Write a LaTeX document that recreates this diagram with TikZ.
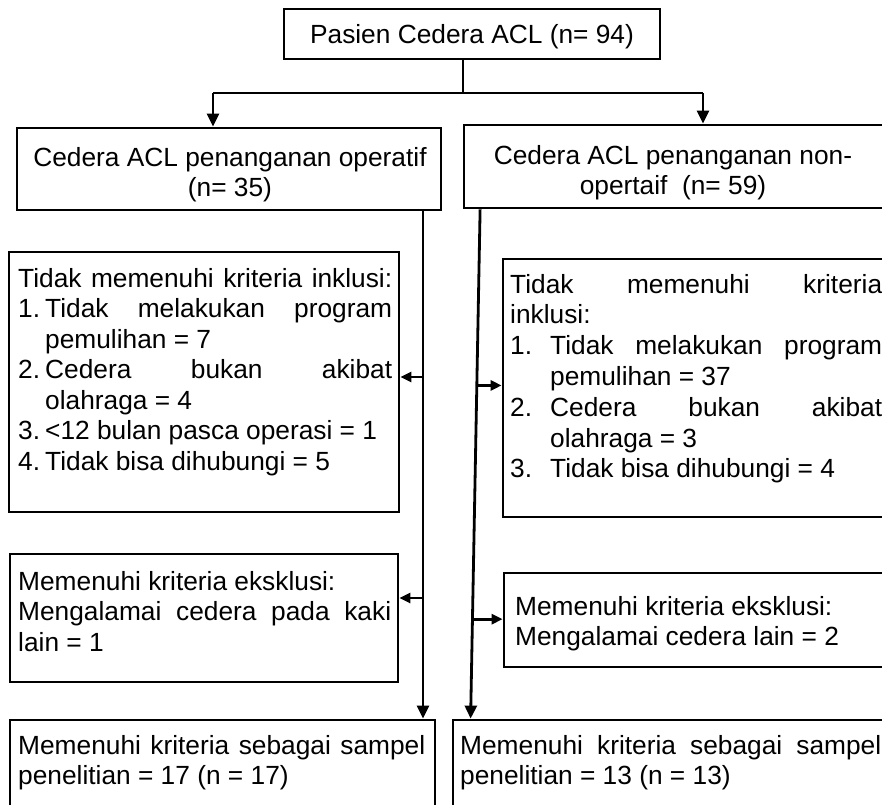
\documentclass[tikz,border=0pt]{standalone}
\usepackage{fontspec}
\setmainfont{Liberation Sans}
\usetikzlibrary{arrows.meta,calc}
\newcommand{\jl}[2]{\makebox[#1pt][s]{#2}}
\newcommand{\itm}[3]{\makebox[#1pt][l]{#2}#3}
\begin{document}
\begin{tikzpicture}[x=1pt,y=-1pt,
  box/.style={draw, line width=2.8pt, inner sep=0pt, rectangle},
  txt/.style={inner sep=0pt, align=left, font=\fontsize{26.3}{30.5}\selectfont},
  ctxt/.style={inner sep=0pt, align=center, font=\fontsize{26.3}{30.5}\selectfont},
  conn/.style={line width=2.8pt},
  bigarr/.style={conn, -{Triangle[length=13pt,width=12pt]}},
  smallarr/.style={conn, -{Triangle[length=11pt,width=10pt]}}]
\useasboundingbox (0,0) rectangle (882,804);

% boxes
\node[box, minimum width=376, minimum height=50] (top) at (472,34) {};
\node[ctxt, anchor=base] (topT) at (472,43) {Pasien Cedera ACL (n= 94)};

\node[box, minimum width=424, minimum height=82] (opL) at (229,169) {};
\node[ctxt, anchor=base] (opLT) at (230,196.5) {Cedera ACL penanganan operatif\\(n= 35)};

\node[box, minimum width=420, minimum height=83] (nonop) at (674,166.5) {};
\node[ctxt, anchor=base] (nonopT) at (673,194.5) {Cedera ACL penanganan non-\\opertaif \ (n= 59)};

\node[box, minimum width=390, minimum height=260] (incL) at (204,382) {};
\node[txt, anchor=base west] (incLT) at (18,470) {%
\jl{374}{Tidak memenuhi kriteria inklusi:}\\
\itm{27}{1.}{\jl{347}{Tidak melakukan program}}\\
\hspace*{27pt}pemulihan = 7\\
\itm{27}{2.}{\jl{347}{Cedera bukan akibat}}\\
\hspace*{27pt}olahraga = 4\\
\itm{27}{3.}{<12 bulan pasca operasi = 1}\\
\itm{27}{4.}{Tidak bisa dihubungi = 5}};

\node[box, minimum width=381, minimum height=258] (incR) at (693.5,388) {};
\node[txt, anchor=base west, font=\fontsize{26.3}{30.8}\selectfont] (incRT) at (510,477.8) {%
\jl{372}{Tidak memenuhi kriteria}\\
inklusi:\\
\itm{40}{1.}{\jl{332}{Tidak melakukan program}}\\
\hspace*{40pt}pemulihan = 37\\
\itm{40}{2.}{\jl{332}{Cedera bukan akibat}}\\
\hspace*{40pt}olahraga = 3\\
\itm{40}{3.}{Tidak bisa dihubungi = 4}};

\node[box, minimum width=388, minimum height=128] (excL) at (204,618) {};
\node[txt, anchor=base west] (excLT) at (18,651) {%
Memenuhi kriteria eksklusi:\\
\jl{373}{Mengalamai cedera pada kaki}\\
lain = 1};

\node[box, minimum width=380, minimum height=94] (excR) at (694,620) {};
\node[txt, anchor=base west] (excRT) at (515,645.5) {%
Memenuhi kriteria eksklusi:\\
Mengalamai cedera lain = 2};

\node[box, minimum width=425, minimum height=110] (botL) at (222.5,775) {};
\node[txt, anchor=base west] (botLT) at (18,784.5) {%
\jl{407}{Memenuhi kriteria sebagai sampel}\\
penelitian = 17 (n = 17)};

\node[box, minimum width=431, minimum height=110] (botR) at (668.5,775) {};
\node[txt, anchor=base west] (botRT) at (460,784.5) {%
\jl{421}{Memenuhi kriteria sebagai sampel}\\
penelitian = 13 (n = 13)};

% connectors
\coordinate (j) at (463,93);
\coordinate (aL) at (213,93);
\coordinate (aR) at (703,93);
\draw[conn] (top.south -| j) -- (j);
\draw[conn] (aL) -- (aR);
\draw[bigarr] (aL) -- (aL |- opL.north);
\draw[bigarr] (aR) -- (aR |- nonop.north);

\coordinate (vL) at (423,0);
\draw[bigarr] (opL.south -| vL) -- (botL.north -| vL);
\coordinate (l1) at (423,377);
\coordinate (l2) at (423,598);
\draw[smallarr] (l1) -- (l1 -| incL.east);
\draw[smallarr] (l2) -- (l2 -| excL.east);

\coordinate (rs) at ($(nonop.south west)+(17.5,0)$);
\coordinate (re) at ($(botR.north west)+(19,0)$);
\draw[bigarr] (rs) -- (re);
\coordinate (r1) at ($(rs)!0.3457!(re)$);
\coordinate (r2) at ($(rs)!0.8047!(re)$);
\draw[smallarr] (r1) -- (r1 -| incR.west);
\draw[smallarr] (r2) -- (r2 -| excR.west);
\end{tikzpicture}
\end{document}
